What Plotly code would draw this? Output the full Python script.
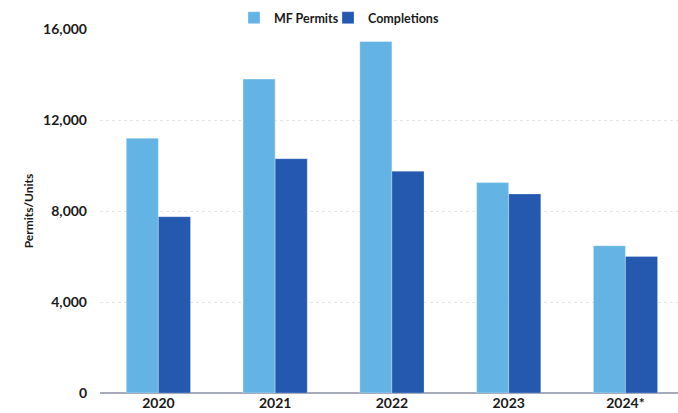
import plotly.graph_objects as go

years = ["2020", "2021", "2022", "2023", "2024*"]
mf_permits = [11200, 13800, 15450, 9250, 6475]
completions = [7750, 10300, 9750, 8750, 6000]
y_ticks = [0, 4000, 8000, 12000, 16000]
y_tick_text = ["0", "4,000", "8,000", "12,000", "16,000"]

FONT = "Lato"
TEXT = "#1a1a1a"

fig = go.Figure()
fig.add_trace(go.Bar(
    x=years, y=mf_permits, name="MF Permits", legend="legend",
    marker=dict(color="#63b4e4", line=dict(color="rgba(255,255,255,0.35)", width=1)),
))
fig.add_trace(go.Bar(
    x=years, y=completions, name="Completions", legend="legend2",
    marker=dict(color="#2559b0", line=dict(color="rgba(255,255,255,0.25)", width=1)),
))

legend_style = dict(
    orientation="h", xanchor="left", y=1.03, yanchor="middle",
    font=dict(family=FONT, size=12.5, color=TEXT, weight="bold"),
    itemwidth=30, bgcolor="rgba(0,0,0,0)",
)

fig.update_layout(
    width=678, height=413,
    margin=dict(l=100, r=0, t=29, b=20, autoexpand=False),
    paper_bgcolor="white", plot_bgcolor="white",
    barmode="group", bargap=0.45, bargroupgap=0,
    font=dict(family=FONT, color=TEXT, size=14, weight="bold"),
    legend=dict(x=0.2318, **legend_style),
    legend2=dict(x=0.3945, **legend_style),
    showlegend=True,
)
fig.update_xaxes(
    range=[-0.5, 4.45], showgrid=False, showline=False, ticks="",
    tickfont=dict(family=FONT, size=14, color=TEXT, weight="bold"),
    automargin=False,
)
fig.update_yaxes(
    range=[0, 16000], tickvals=y_ticks, ticktext=y_tick_text,
    showgrid=True, gridcolor="#e4e4e4", gridwidth=1, griddash="dot",
    zeroline=True, zerolinecolor="#a7aab8", zerolinewidth=2,
    showline=False, ticks="", ticklabelstandoff=12,
    tickfont=dict(family=FONT, size=14, color=TEXT, weight="bold"),
    title=dict(text="Permits/Units", standoff=6,
               font=dict(family=FONT, size=12, color=TEXT, weight="bold")),
    automargin=False,
)

fig.write_html("out.html")
